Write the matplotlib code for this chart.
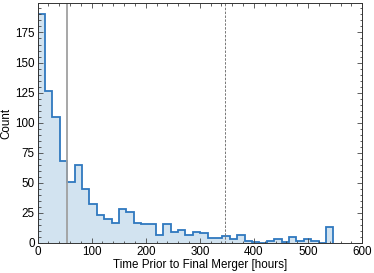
import numpy as np
import matplotlib
matplotlib.use("Agg")
import matplotlib.pyplot as plt
from matplotlib.ticker import MultipleLocator

# Histogram data (hours prior to final merger)
bin_start = 0.0
bin_end = 547.0
counts = [190, 126, 105, 68, 51, 65, 45, 32, 23, 20,
          17, 28, 26, 17, 16, 16, 7, 16, 9, 11,
          7, 9, 8, 4, 4, 6, 3, 7, 2, 1,
          0, 2, 3, 1, 5, 2, 3, 2, 0, 13]
solid_line_x = 54
dashed_line_x = 347
x_ticks = [0, 100, 200, 300, 400, 500, 600]
y_ticks = [0, 25, 50, 75, 100, 125, 150, 175]

plt.rcParams['font.family'] = ['Liberation Sans', 'DejaVu Sans']
plt.rcParams['font.size'] = 8.4

edges = np.linspace(bin_start, bin_end, len(counts) + 1)

fig = plt.figure(figsize=(3.74, 2.73), dpi=100)
ax = fig.add_axes([0.1003, 0.110, 0.868, 0.879])

ax.stairs(counts, edges, fill=True, color='#1f77b4', alpha=0.2, linewidth=0)
ax.stairs(counts, edges, baseline=0, fill=False, color='#2f78bf', linewidth=1.3)

ax.axvline(solid_line_x, color='#a0a0a0', linewidth=1.3)
ax.axvline(dashed_line_x, color='#777777', linewidth=0.7, linestyle=(0, (2.5, 1.5)))

ax.set_xlim(0, 600)
ax.set_ylim(0, max(counts) * 1.05)
ax.set_xticks(x_ticks)
ax.set_yticks(y_ticks)
ax.xaxis.set_minor_locator(MultipleLocator(20))
ax.yaxis.set_minor_locator(MultipleLocator(5))
ax.tick_params(which='both', direction='in', top=True, right=True, colors='#444444',
               labelcolor='black', width=0.6)
ax.tick_params(which='major', length=3.5, pad=2)
ax.tick_params(which='minor', length=1.8)
for s in ax.spines.values():
    s.set_linewidth(0.7)
    s.set_color('#333333')

ax.set_xlabel('Time Prior to Final Merger [hours]', labelpad=1)
ax.set_ylabel('Count', labelpad=2)

fig.savefig('out.png', dpi=100)
